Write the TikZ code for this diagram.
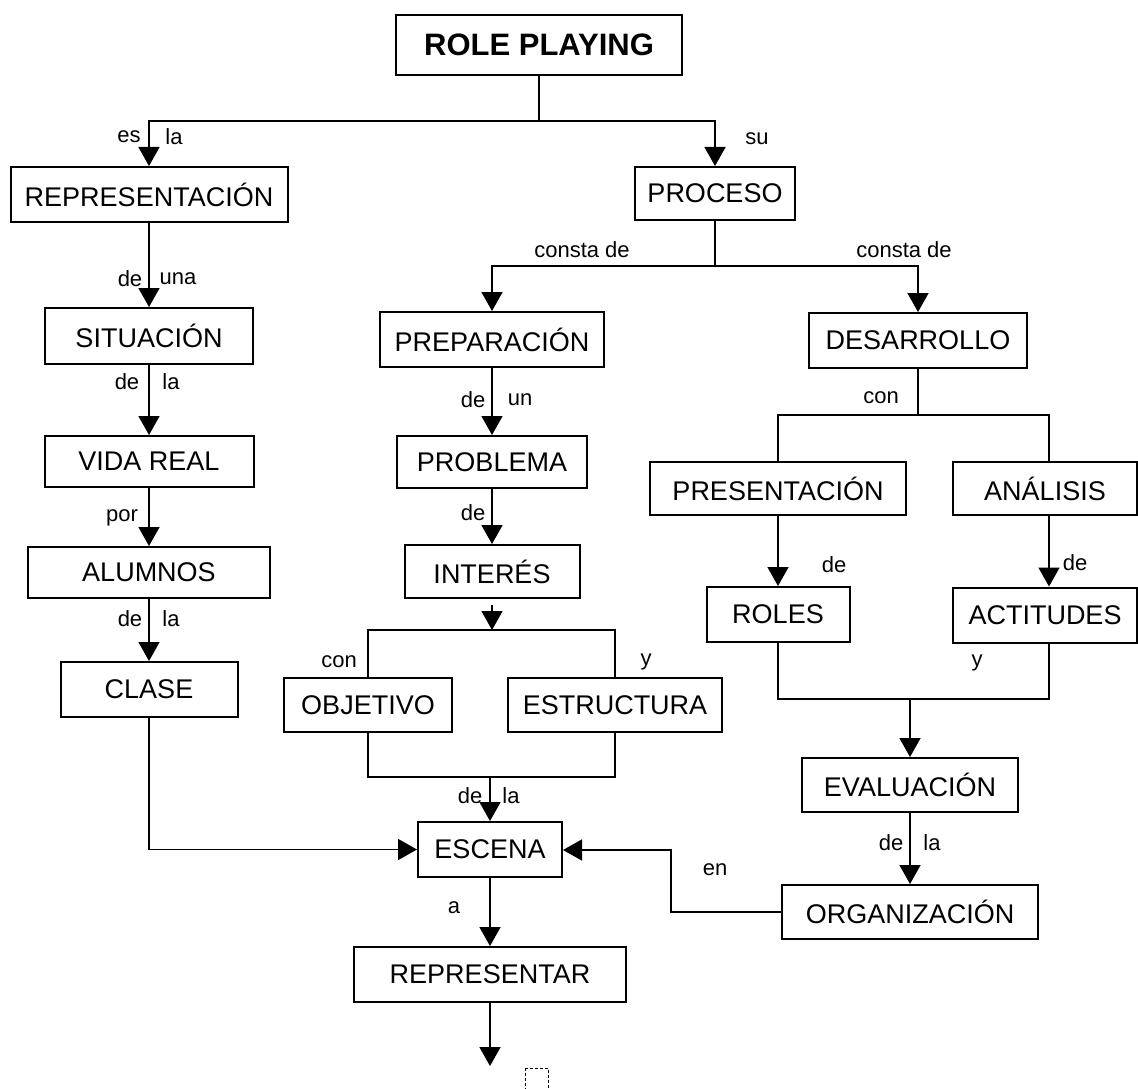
\documentclass[tikz,border=0pt]{standalone}
\usepackage{fontspec}
\setmainfont{Liberation Sans}
\usetikzlibrary{arrows.meta}
\begin{document}
\begin{tikzpicture}[x=1pt,y=-1pt,
  box/.style={draw=black,line width=2pt,inner sep=0pt,fill=white,
    font=\fontsize{27}{31}\selectfont},
  arr/.style={line width=1.6pt,-{Triangle[length=19pt,width=21pt]}},
  link/.style={line width=1.6pt},
  lbl/.style={inner sep=0pt,font=\fontsize{22}{26}\selectfont}]
\useasboundingbox[fill=white] (0,0) rectangle (1138,1089);

% concept boxes
\node[box,minimum width=286pt,minimum height=60pt,font=\fontsize{31}{36}\selectfont\bfseries] (role) at (539,45) {ROLE PLAYING};
\node[box,minimum width=277pt,minimum height=55pt] (repr) at (149,194.5) {REPRESENTACIÓN};
\node[box,minimum width=160pt,minimum height=53pt] (proc) at (715,193.5) {PROCESO};
\node[box,minimum width=208pt,minimum height=56pt] (sit) at (149,336) {SITUACIÓN};
\node[box,minimum width=209pt,minimum height=51pt] (vida) at (149,461.5) {VIDA REAL};
\node[box,minimum width=242pt,minimum height=51pt] (alum) at (149,572.5) {ALUMNOS};
\node[box,minimum width=177pt,minimum height=55pt] (clase) at (149,689.5) {CLASE};
\node[box,minimum width=224pt,minimum height=55pt] (prep) at (492,339.5) {PREPARACIÓN};
\node[box,minimum width=190pt,minimum height=52pt] (probl) at (492,462) {PROBLEMA};
\node[box,minimum width=175pt,minimum height=53pt] (inter) at (492,571.5) {INTERÉS};
\node[box,minimum width=168pt,minimum height=54pt] (obj) at (368,705) {OBJETIVO};
\node[box,minimum width=214pt,minimum height=54pt] (estr) at (615,705) {ESTRUCTURA};
\node[box,minimum width=144pt,minimum height=55pt] (escena) at (490,849.5) {ESCENA};
\node[box,minimum width=272pt,minimum height=55pt] (repres) at (490,974.5) {REPRESENTAR};
\node[box,minimum width=218pt,minimum height=55pt] (desa) at (918,340.5) {DESARROLLO};
\node[box,minimum width=256pt,minimum height=53pt] (pres) at (778,488.5) {PRESENTACIÓN};
\node[box,minimum width=184pt,minimum height=53pt] (anal) at (1045,488.5) {ANÁLISIS};
\node[box,minimum width=143pt,minimum height=55pt] (roles) at (778,614.5) {ROLES};
\node[box,minimum width=184pt,minimum height=55pt] (acti) at (1045,615) {ACTITUDES};
\node[box,minimum width=216pt,minimum height=54pt] (eval) at (910,785) {EVALUACIÓN};
\node[box,minimum width=256pt,minimum height=54pt] (org) at (910,912) {ORGANIZACIÓN};

% junction points of the connectors
\coordinate (t1) at (539,121);
\coordinate (t2) at (715,266);
\coordinate (t3) at (492,630);
\coordinate (t4) at (490,777);
\coordinate (t5) at (918,415);
\coordinate (t5r) at (1049,415);
\coordinate (t6) at (910,699);
\coordinate (t7) at (671,850);
\coordinate (fin) at (490,1066);

% ROLE PLAYING branches
\draw[link] (role.south) -- (t1);
\draw[arr] (t1) -| (repr.north);
\draw[arr] (t1) -| (proc.north);
\node[lbl] at (129,137) {es};
\node[lbl] at (174,137) {la};
\node[lbl] at (757,139) {su};

% left column
\draw[arr] (repr) -- (sit);
\node[lbl] at (130,279) {de};
\node[lbl] at (178,279) {una};
\draw[arr] (sit) -- (vida);
\node[lbl] at (127,382) {de};
\node[lbl] at (171,382) {la};
\draw[arr] (vida) -- (alum);
\node[lbl] at (122,518) {por};
\draw[arr] (alum) -- (clase);
\node[lbl] at (130,619) {de};
\node[lbl] at (171,619) {la};
\draw[arr] (clase.south) |- (escena.west);

% PROCESO branches
\draw[link] (proc.south) -- (t2);
\draw[arr] (t2) -| (prep.north);
\draw[arr] (t2) -| (desa.north);
\node[lbl] at (582,250) {consta de};
\node[lbl] at (904,250) {consta de};

% middle column
\draw[arr] (prep) -- (probl);
\node[lbl] at (473,400) {de};
\node[lbl] at (520,400) {un};
\draw[arr] (probl) -- (inter);
\node[lbl] at (473,513) {de};
\draw[arr] ([yshift=-6pt]inter.south) -- (t3);
\draw[link] (obj.north) -- (obj.north |- t3) -- (estr.north |- t3) -- (estr.north);
\node[lbl] at (339,662) {con};
\node[lbl] at (646,662) {y};
\draw[link] (obj.south) -- (obj.south |- t4) -- (estr.south |- t4) -- (estr.south);
\draw[arr] (t4) -- (escena.north);
\node[lbl] at (470,796) {de};
\node[lbl] at (511,796) {la};
\draw[arr] (escena) -- (repres);
\node[lbl] at (454,908) {a};
\draw[arr] (repres.south) -- (fin);
\draw[line width=0.8pt,densely dashed] (525,1068) -- (525,1092) (525,1068) -- (548,1068) -- (548,1092);

% right column
\draw[link] (desa.south) -- (t5);
\draw[link] (pres.north) -- (pres.north |- t5) -- (t5r) -- (t5r |- anal.north);
\node[lbl] at (881,398) {con};
\draw[arr] (pres) -- (roles);
\node[lbl] at (834,565) {de};
\draw[arr] (anal.south -| t5r) -- (acti.north -| t5r);
\node[lbl] at (1075,563) {de};
\draw[link] (roles.south) -- (roles.south |- t6) -- (t5r |- t6) -- (t5r |- acti.south);
\node[lbl] at (977,663) {y};
\draw[arr] (t6) -- (eval.north);
\draw[arr] (eval) -- (org);
\node[lbl] at (891,843) {de};
\node[lbl] at (932,843) {la};
\draw[arr] (org.west) -| (t7) -- (t7 -| escena.east);
\node[lbl] at (715,870) {en};
\end{tikzpicture}
\end{document}
